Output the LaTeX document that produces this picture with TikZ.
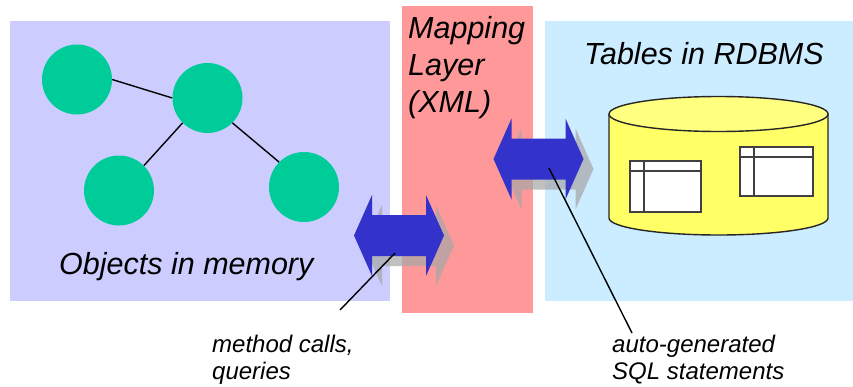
\documentclass[tikz,border=0pt]{standalone}
\usepackage{fontspec}
\setmainfont{Liberation Sans}
\usetikzlibrary{positioning}
\definecolor{objback}{RGB}{204,204,255}
\definecolor{mapback}{RGB}{255,153,153}
\definecolor{tabback}{RGB}{204,236,255}
\definecolor{objgreen}{RGB}{0,204,153}
\definecolor{arrowblue}{RGB}{51,51,204}
\definecolor{cylyellow}{RGB}{255,255,102}
\definecolor{cyltop}{RGB}{255,255,128}
\tikzset{
    object/.style={circle, fill=objgreen, draw=none, minimum size=70pt, inner sep=0pt},
    link/.style={draw=black, line width=1.4pt},
    leader/.style={draw=black, line width=1.4pt},
    heading/.style={font=\itshape\fontsize{30.5}{37}\selectfont, align=left, inner sep=0pt},
    note/.style={font=\itshape\fontsize{24}{27}\selectfont, align=left, inner sep=0pt},
    cylinder line/.style={draw=black!85, line width=1.4pt},
    tablecell/.style={draw=black!75, line width=1.5pt},
    dblarrow/.pic={
        \fill[black!35, opacity=.7] (-35,10) -- (-17,-30.5) -- (-17,-10.5) -- (37,-10.5) -- (37,-30.5) -- (55,10) -- (37,50.5) -- (37,30.5) -- (-17,30.5) -- (-17,50.5) -- cycle;
        \fill[arrowblue] (-45,0) -- (-27,-40.5) -- (-27,-20.5) -- (27,-20.5) -- (27,-40.5) -- (45,0) -- (27,40.5) -- (27,20.5) -- (-27,20.5) -- (-27,40.5) -- cycle;
    },
}
\begin{document}
\begin{tikzpicture}[x=1pt, y=-1pt]
    \useasboundingbox (0,0) rectangle (853,386);
    \fill[white] (0,0) rectangle (853,386);
    % panels
    \fill[objback] (10,21) rectangle (390,301);
    \fill[mapback] (402,6) rectangle (533,313);
    \fill[tabback] (545,21) rectangle (853,301);
    % objects
    \node[object] (obja) at (77,79.5) {};
    \node[object] (objb) at (207.5,98) {};
    \node[object] (objc) at (119,190.5) {};
    \node[object] (objd) at (304,187) {};
    \draw[link] (obja.east) -- (objb.west);
    \draw[link] (objb.225) -- (objc.45);
    \draw[link] (objb.-45) -- (objd.135);
    \node[heading, anchor=base west] (objtext) at (59,274) {Objects in memory};
    \node[heading, anchor=base west] (maptext) at (408,112) {Mapping\\Layer\\(XML)};
    \node[heading, anchor=base west] (tabtext) at (584,64) {Tables in RDBMS};
    % database
    \draw[cylinder line, fill=cylyellow] (609,114) -- (609,218) arc[start angle=180, end angle=360, x radius=109.5, y radius=-17] -- (828,114);
    \draw[cylinder line, fill=cyltop] (718.5,114) ellipse (109.5 and 17.5);
    \draw[tablecell, fill=white] (630,161) rectangle (701,212);
    \draw[tablecell] (644,161) -- (644,212) (630,171) -- (701,171);
    \draw[tablecell, fill=white] (740,147) rectangle (813,196);
    \draw[tablecell] (754,147) -- (754,196) (740,157) -- (813,157);
    % arrows
    \pic at (399,235.5) {dblarrow};
    \pic at (538.5,159) {dblarrow};
    \coordinate (calls) at (395,253);
    \coordinate (sql) at (549,168);
    \node[note, anchor=base west] (callstext) at (212,379) {method calls,\\queries};
    \node[note, anchor=base west] (sqltext) at (612,379) {auto-generated\\SQL statements};
    \coordinate (callsend) at (340,310);
    \coordinate (sqlend) at (632,333);
    \draw[leader] (calls) -- (callsend);
    \draw[leader] (sql) -- (sqlend);
\end{tikzpicture}
\end{document}
